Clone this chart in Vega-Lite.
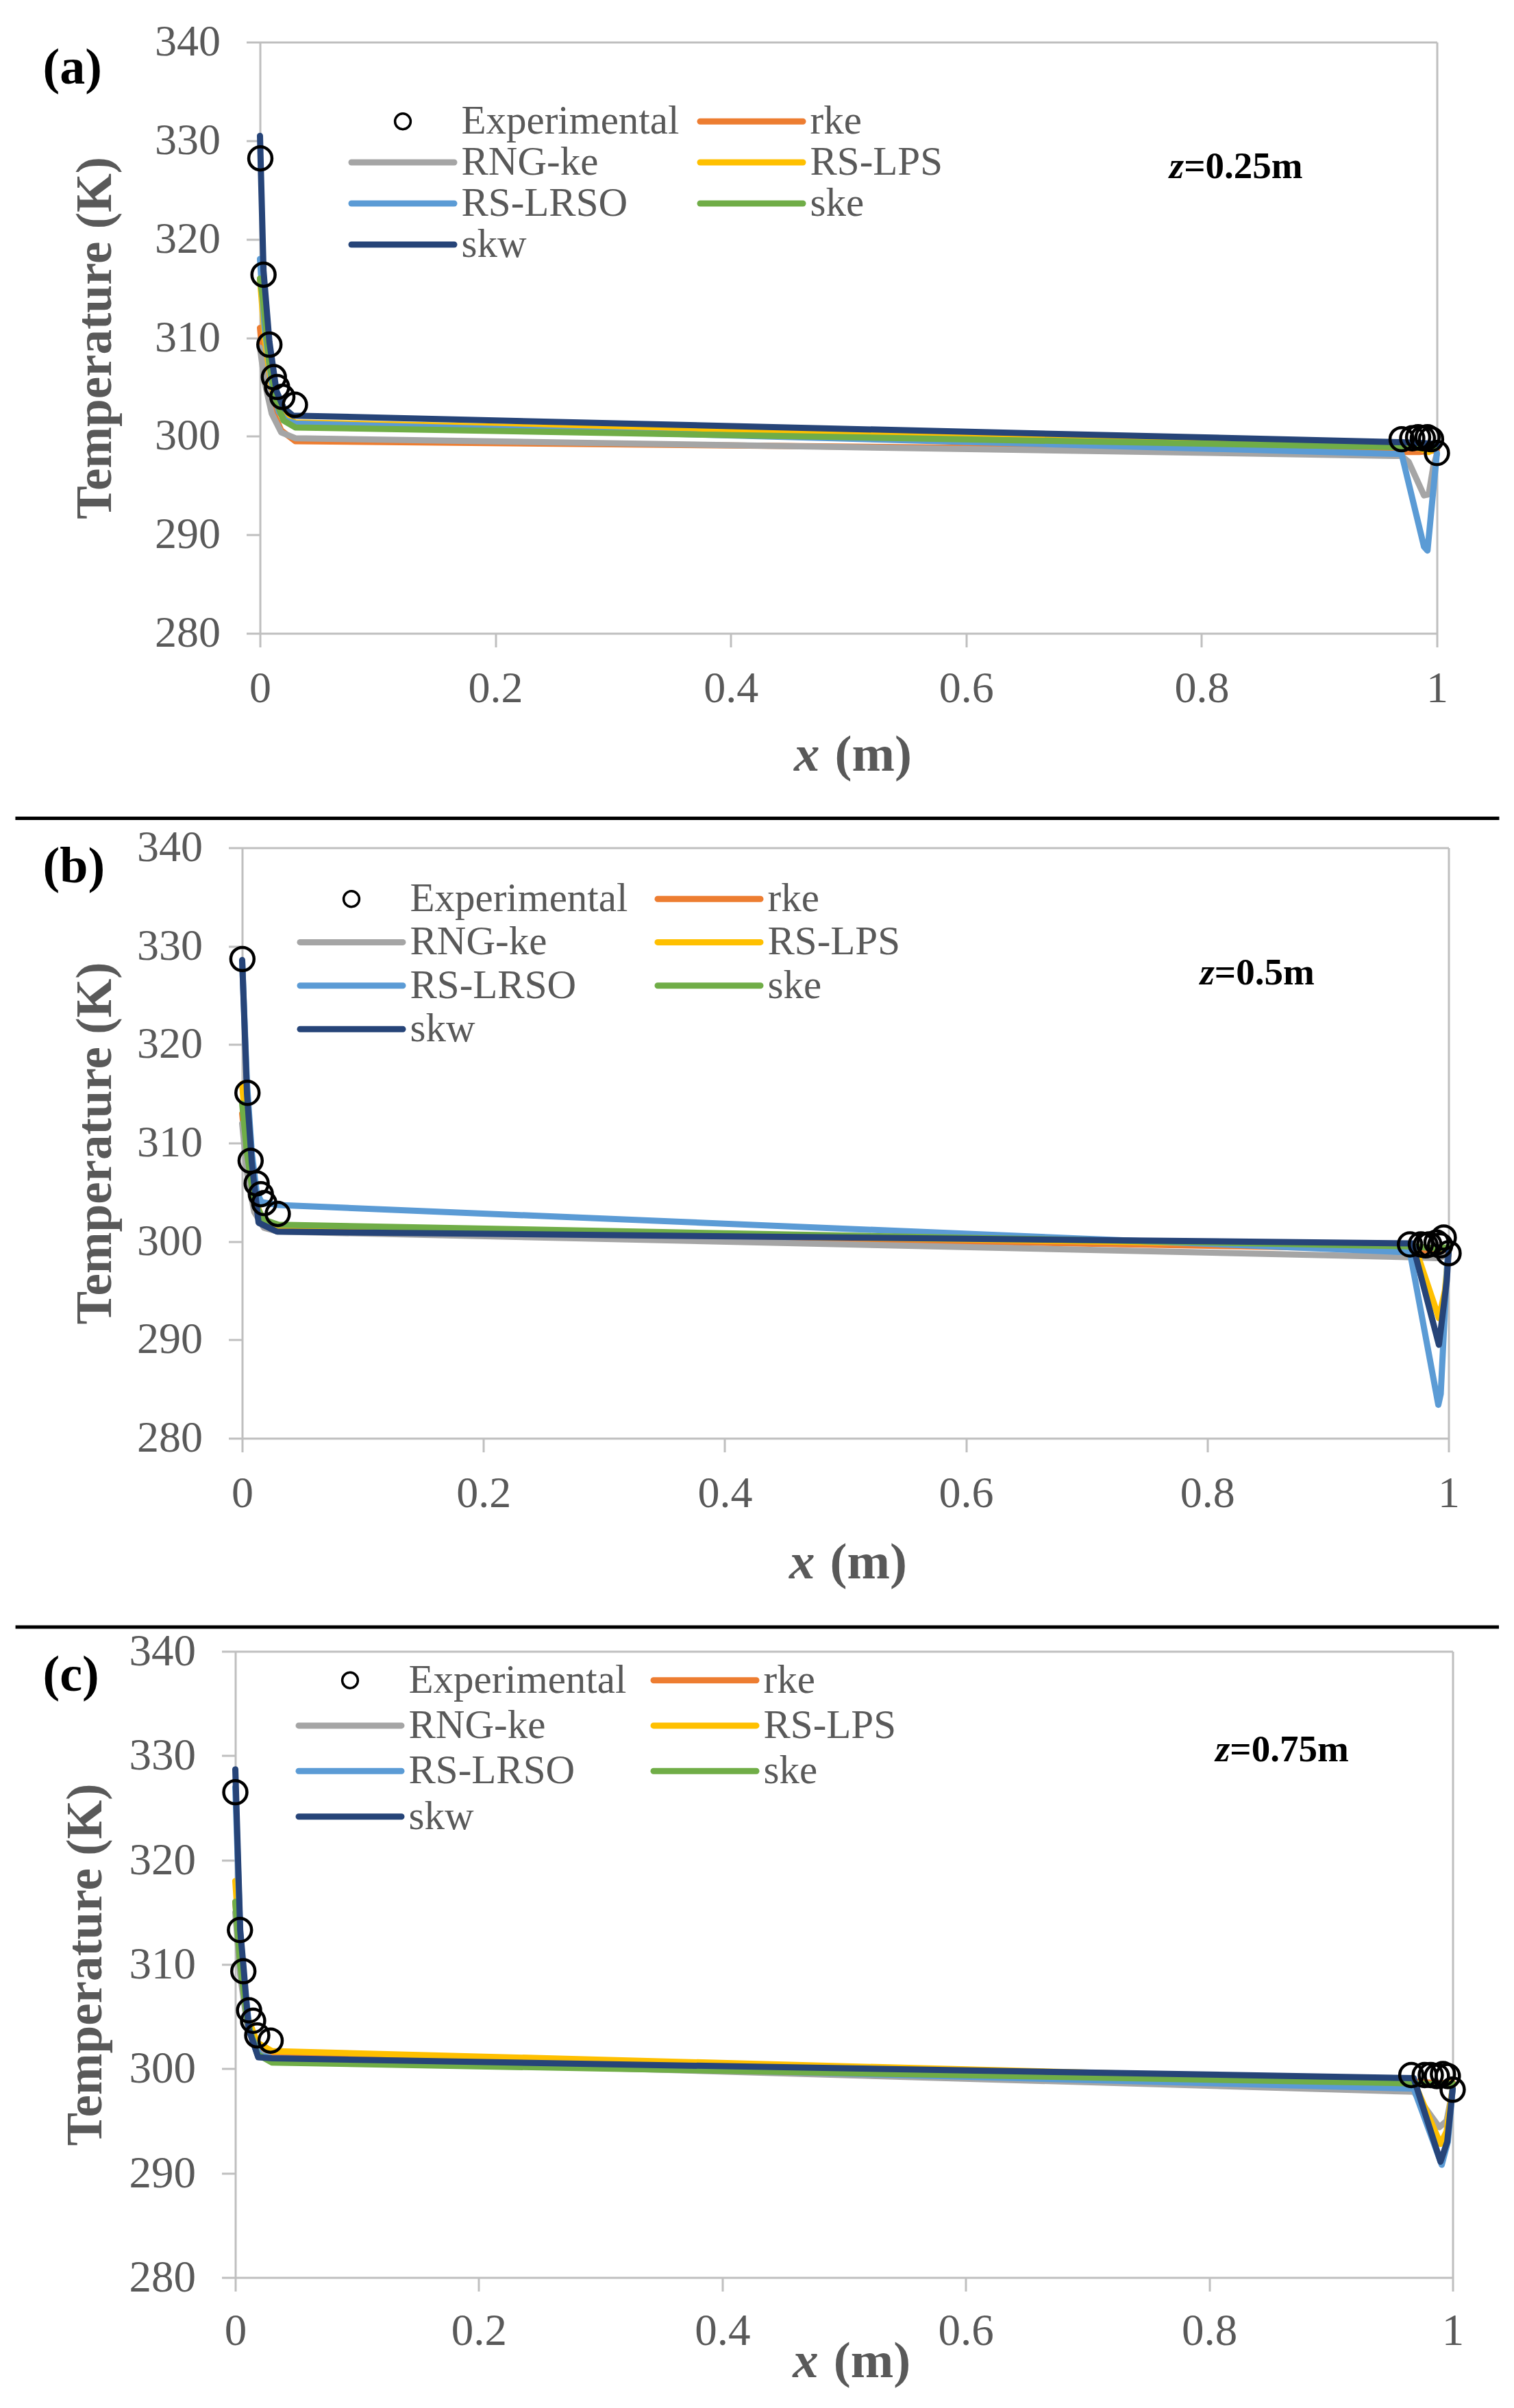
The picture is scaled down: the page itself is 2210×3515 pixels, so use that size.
{
  "$schema": "https://vega.github.io/schema/vega-lite/v6.json",
  "background": "white",
  "padding": {"left": 19.5, "top": 17.5, "right": 0, "bottom": 0},
  "spacing": 28,
  "datasets": {
    "curves": [
      {"panel": "a", "model": "rke", "x": 0, "T": 311}, {"panel": "a", "model": "rke", "x": 0.004, "T": 306}, {"panel": "a", "model": "rke", "x": 0.01, "T": 302.8}, {"panel": "a", "model": "rke", "x": 0.018, "T": 300.6}, {"panel": "a", "model": "rke", "x": 0.03, "T": 299.5}, {"panel": "a", "model": "rke", "x": 0.97, "T": 298.4}, {"panel": "a", "model": "rke", "x": 0.985, "T": 298.4}, {"panel": "a", "model": "rke", "x": 0.993, "T": 298.5}, {"panel": "a", "model": "rke", "x": 1, "T": 298.6},
      {"panel": "a", "model": "RNG-ke", "x": 0, "T": 309}, {"panel": "a", "model": "RNG-ke", "x": 0.004, "T": 305.5}, {"panel": "a", "model": "RNG-ke", "x": 0.01, "T": 302.3}, {"panel": "a", "model": "RNG-ke", "x": 0.018, "T": 300.4}, {"panel": "a", "model": "RNG-ke", "x": 0.03, "T": 299.8}, {"panel": "a", "model": "RNG-ke", "x": 0.97, "T": 298.0}, {"panel": "a", "model": "RNG-ke", "x": 0.976, "T": 297.4}, {"panel": "a", "model": "RNG-ke", "x": 0.989, "T": 294.0}, {"panel": "a", "model": "RNG-ke", "x": 0.993, "T": 294.1}, {"panel": "a", "model": "RNG-ke", "x": 0.997, "T": 297}, {"panel": "a", "model": "RNG-ke", "x": 1, "T": 298.2},
      {"panel": "a", "model": "RS-LPS", "x": 0, "T": 316}, {"panel": "a", "model": "RS-LPS", "x": 0.004, "T": 310}, {"panel": "a", "model": "RS-LPS", "x": 0.01, "T": 305}, {"panel": "a", "model": "RS-LPS", "x": 0.018, "T": 302.3}, {"panel": "a", "model": "RS-LPS", "x": 0.03, "T": 301.4}, {"panel": "a", "model": "RS-LPS", "x": 0.97, "T": 299.1}, {"panel": "a", "model": "RS-LPS", "x": 0.985, "T": 298.8}, {"panel": "a", "model": "RS-LPS", "x": 0.993, "T": 298.4}, {"panel": "a", "model": "RS-LPS", "x": 1, "T": 298.9},
      {"panel": "a", "model": "RS-LRSO", "x": 0, "T": 318}, {"panel": "a", "model": "RS-LRSO", "x": 0.004, "T": 311}, {"panel": "a", "model": "RS-LRSO", "x": 0.01, "T": 305.5}, {"panel": "a", "model": "RS-LRSO", "x": 0.016, "T": 302.5}, {"panel": "a", "model": "RS-LRSO", "x": 0.022, "T": 301.6}, {"panel": "a", "model": "RS-LRSO", "x": 0.03, "T": 301.3}, {"panel": "a", "model": "RS-LRSO", "x": 0.97, "T": 298.2}, {"panel": "a", "model": "RS-LRSO", "x": 0.989, "T": 288.8}, {"panel": "a", "model": "RS-LRSO", "x": 0.992, "T": 288.4}, {"panel": "a", "model": "RS-LRSO", "x": 0.996, "T": 293.4}, {"panel": "a", "model": "RS-LRSO", "x": 1, "T": 298.3},
      {"panel": "a", "model": "ske", "x": 0, "T": 316}, {"panel": "a", "model": "ske", "x": 0.003, "T": 313.5}, {"panel": "a", "model": "ske", "x": 0.008, "T": 307.5}, {"panel": "a", "model": "ske", "x": 0.014, "T": 303.5}, {"panel": "a", "model": "ske", "x": 0.02, "T": 301.6}, {"panel": "a", "model": "ske", "x": 0.03, "T": 300.9}, {"panel": "a", "model": "ske", "x": 0.97, "T": 298.9}, {"panel": "a", "model": "ske", "x": 0.99, "T": 298.8}, {"panel": "a", "model": "ske", "x": 1, "T": 299.0},
      {"panel": "a", "model": "skw", "x": 0, "T": 330.5}, {"panel": "a", "model": "skw", "x": 0.003, "T": 316.8}, {"panel": "a", "model": "skw", "x": 0.008, "T": 309.6}, {"panel": "a", "model": "skw", "x": 0.014, "T": 304.6}, {"panel": "a", "model": "skw", "x": 0.02, "T": 302.9}, {"panel": "a", "model": "skw", "x": 0.028, "T": 302.1}, {"panel": "a", "model": "skw", "x": 0.97, "T": 299.4}, {"panel": "a", "model": "skw", "x": 0.99, "T": 299.3}, {"panel": "a", "model": "skw", "x": 1, "T": 299.2},

      {"panel": "b", "model": "rke", "x": 0, "T": 313}, {"panel": "b", "model": "rke", "x": 0.004, "T": 308}, {"panel": "b", "model": "rke", "x": 0.01, "T": 303.5}, {"panel": "b", "model": "rke", "x": 0.018, "T": 301.6}, {"panel": "b", "model": "rke", "x": 0.03, "T": 301.2}, {"panel": "b", "model": "rke", "x": 0.97, "T": 299.2}, {"panel": "b", "model": "rke", "x": 0.99, "T": 299.0}, {"panel": "b", "model": "rke", "x": 1, "T": 299.1},
      {"panel": "b", "model": "RNG-ke", "x": 0, "T": 312}, {"panel": "b", "model": "RNG-ke", "x": 0.004, "T": 307}, {"panel": "b", "model": "RNG-ke", "x": 0.01, "T": 303}, {"panel": "b", "model": "RNG-ke", "x": 0.018, "T": 301.4}, {"panel": "b", "model": "RNG-ke", "x": 0.03, "T": 301.0}, {"panel": "b", "model": "RNG-ke", "x": 0.97, "T": 298.4}, {"panel": "b", "model": "RNG-ke", "x": 0.99, "T": 298.3}, {"panel": "b", "model": "RNG-ke", "x": 1, "T": 298.6},
      {"panel": "b", "model": "RS-LPS", "x": 0, "T": 316}, {"panel": "b", "model": "RS-LPS", "x": 0.004, "T": 310}, {"panel": "b", "model": "RS-LPS", "x": 0.01, "T": 304.5}, {"panel": "b", "model": "RS-LPS", "x": 0.018, "T": 301.8}, {"panel": "b", "model": "RS-LPS", "x": 0.03, "T": 301.3}, {"panel": "b", "model": "RS-LPS", "x": 0.972, "T": 299.5}, {"panel": "b", "model": "RS-LPS", "x": 0.992, "T": 292.2}, {"panel": "b", "model": "RS-LPS", "x": 0.997, "T": 295}, {"panel": "b", "model": "RS-LPS", "x": 1, "T": 298.9},
      {"panel": "b", "model": "RS-LRSO", "x": 0, "T": 328.5}, {"panel": "b", "model": "RS-LRSO", "x": 0.004, "T": 316}, {"panel": "b", "model": "RS-LRSO", "x": 0.008, "T": 309}, {"panel": "b", "model": "RS-LRSO", "x": 0.012, "T": 305}, {"panel": "b", "model": "RS-LRSO", "x": 0.016, "T": 304.0}, {"panel": "b", "model": "RS-LRSO", "x": 0.03, "T": 303.7}, {"panel": "b", "model": "RS-LRSO", "x": 0.968, "T": 298.9}, {"panel": "b", "model": "RS-LRSO", "x": 0.9915, "T": 283.4}, {"panel": "b", "model": "RS-LRSO", "x": 0.9935, "T": 284.5}, {"panel": "b", "model": "RS-LRSO", "x": 0.999, "T": 298}, {"panel": "b", "model": "RS-LRSO", "x": 1, "T": 298.9},
      {"panel": "b", "model": "ske", "x": 0, "T": 314}, {"panel": "b", "model": "ske", "x": 0.004, "T": 309}, {"panel": "b", "model": "ske", "x": 0.01, "T": 304}, {"panel": "b", "model": "ske", "x": 0.018, "T": 302.2}, {"panel": "b", "model": "ske", "x": 0.03, "T": 301.7}, {"panel": "b", "model": "ske", "x": 0.97, "T": 299.5}, {"panel": "b", "model": "ske", "x": 0.99, "T": 299.3}, {"panel": "b", "model": "ske", "x": 1, "T": 299.4},
      {"panel": "b", "model": "skw", "x": 0, "T": 328.6}, {"panel": "b", "model": "skw", "x": 0.004, "T": 315}, {"panel": "b", "model": "skw", "x": 0.008, "T": 308}, {"panel": "b", "model": "skw", "x": 0.0136, "T": 301.9}, {"panel": "b", "model": "skw", "x": 0.0288, "T": 301.0}, {"panel": "b", "model": "skw", "x": 0.97, "T": 299.8}, {"panel": "b", "model": "skw", "x": 0.992, "T": 289.5}, {"panel": "b", "model": "skw", "x": 0.9985, "T": 296}, {"panel": "b", "model": "skw", "x": 1, "T": 298.9},

      {"panel": "c", "model": "rke", "x": 0, "T": 316}, {"panel": "c", "model": "rke", "x": 0.004, "T": 310}, {"panel": "c", "model": "rke", "x": 0.01, "T": 305}, {"panel": "c", "model": "rke", "x": 0.018, "T": 301.8}, {"panel": "c", "model": "rke", "x": 0.03, "T": 301.2}, {"panel": "c", "model": "rke", "x": 0.968, "T": 298.8}, {"panel": "c", "model": "rke", "x": 0.99, "T": 298.6}, {"panel": "c", "model": "rke", "x": 1, "T": 298.7},
      {"panel": "c", "model": "RNG-ke", "x": 0, "T": 315}, {"panel": "c", "model": "RNG-ke", "x": 0.004, "T": 309}, {"panel": "c", "model": "RNG-ke", "x": 0.01, "T": 304}, {"panel": "c", "model": "RNG-ke", "x": 0.018, "T": 301.6}, {"panel": "c", "model": "RNG-ke", "x": 0.03, "T": 301.0}, {"panel": "c", "model": "RNG-ke", "x": 0.968, "T": 297.8}, {"panel": "c", "model": "RNG-ke", "x": 0.989, "T": 294.4}, {"panel": "c", "model": "RNG-ke", "x": 0.995, "T": 295}, {"panel": "c", "model": "RNG-ke", "x": 1, "T": 298.0},
      {"panel": "c", "model": "RS-LPS", "x": 0, "T": 318}, {"panel": "c", "model": "RS-LPS", "x": 0.004, "T": 311}, {"panel": "c", "model": "RS-LPS", "x": 0.01, "T": 305}, {"panel": "c", "model": "RS-LPS", "x": 0.018, "T": 302.5}, {"panel": "c", "model": "RS-LPS", "x": 0.03, "T": 301.7}, {"panel": "c", "model": "RS-LPS", "x": 0.968, "T": 298.8}, {"panel": "c", "model": "RS-LPS", "x": 0.99, "T": 292.8}, {"panel": "c", "model": "RS-LPS", "x": 0.995, "T": 294}, {"panel": "c", "model": "RS-LPS", "x": 1, "T": 298.2},
      {"panel": "c", "model": "RS-LRSO", "x": 0, "T": 327}, {"panel": "c", "model": "RS-LRSO", "x": 0.004, "T": 313}, {"panel": "c", "model": "RS-LRSO", "x": 0.008, "T": 307.5}, {"panel": "c", "model": "RS-LRSO", "x": 0.012, "T": 303.5}, {"panel": "c", "model": "RS-LRSO", "x": 0.02, "T": 301.3}, {"panel": "c", "model": "RS-LRSO", "x": 0.03, "T": 301.0}, {"panel": "c", "model": "RS-LRSO", "x": 0.968, "T": 298.1}, {"panel": "c", "model": "RS-LRSO", "x": 0.991, "T": 290.8}, {"panel": "c", "model": "RS-LRSO", "x": 0.996, "T": 293}, {"panel": "c", "model": "RS-LRSO", "x": 1, "T": 298.1},
      {"panel": "c", "model": "ske", "x": 0, "T": 316}, {"panel": "c", "model": "ske", "x": 0.004, "T": 310}, {"panel": "c", "model": "ske", "x": 0.01, "T": 304.5}, {"panel": "c", "model": "ske", "x": 0.018, "T": 301.4}, {"panel": "c", "model": "ske", "x": 0.03, "T": 300.6}, {"panel": "c", "model": "ske", "x": 0.968, "T": 298.6}, {"panel": "c", "model": "ske", "x": 0.99, "T": 298.5}, {"panel": "c", "model": "ske", "x": 1, "T": 298.6},
      {"panel": "c", "model": "skw", "x": 0, "T": 328.7}, {"panel": "c", "model": "skw", "x": 0.004, "T": 313.3}, {"panel": "c", "model": "skw", "x": 0.007, "T": 309.4}, {"panel": "c", "model": "skw", "x": 0.011, "T": 303.8}, {"panel": "c", "model": "skw", "x": 0.0188, "T": 301.1}, {"panel": "c", "model": "skw", "x": 0.03, "T": 301.0}, {"panel": "c", "model": "skw", "x": 0.968, "T": 299.1}, {"panel": "c", "model": "skw", "x": 0.99, "T": 291.1}, {"panel": "c", "model": "skw", "x": 0.9955, "T": 293}, {"panel": "c", "model": "skw", "x": 1, "T": 298.1}
    ],
    "experimental": [
      {"panel": "a", "model": "Experimental", "x": 0.0003, "T": 328.2}, {"panel": "a", "model": "Experimental", "x": 0.003, "T": 316.4}, {"panel": "a", "model": "Experimental", "x": 0.008, "T": 309.3}, {"panel": "a", "model": "Experimental", "x": 0.0118, "T": 306.0}, {"panel": "a", "model": "Experimental", "x": 0.0145, "T": 305.0}, {"panel": "a", "model": "Experimental", "x": 0.019, "T": 304.0}, {"panel": "a", "model": "Experimental", "x": 0.0297, "T": 303.2},
      {"panel": "a", "model": "Experimental", "x": 0.970, "T": 299.7}, {"panel": "a", "model": "Experimental", "x": 0.979, "T": 299.8}, {"panel": "a", "model": "Experimental", "x": 0.984, "T": 299.9}, {"panel": "a", "model": "Experimental", "x": 0.988, "T": 299.8}, {"panel": "a", "model": "Experimental", "x": 0.992, "T": 299.9}, {"panel": "a", "model": "Experimental", "x": 0.995, "T": 299.7}, {"panel": "a", "model": "Experimental", "x": 1.0, "T": 298.3},
      {"panel": "b", "model": "Experimental", "x": 0.0002, "T": 328.7}, {"panel": "b", "model": "Experimental", "x": 0.0044, "T": 315.1}, {"panel": "b", "model": "Experimental", "x": 0.007, "T": 308.2}, {"panel": "b", "model": "Experimental", "x": 0.012, "T": 305.9}, {"panel": "b", "model": "Experimental", "x": 0.0155, "T": 304.8}, {"panel": "b", "model": "Experimental", "x": 0.0183, "T": 303.9}, {"panel": "b", "model": "Experimental", "x": 0.0295, "T": 302.8},
      {"panel": "b", "model": "Experimental", "x": 0.968, "T": 299.7}, {"panel": "b", "model": "Experimental", "x": 0.977, "T": 299.7}, {"panel": "b", "model": "Experimental", "x": 0.981, "T": 299.6}, {"panel": "b", "model": "Experimental", "x": 0.984, "T": 299.7}, {"panel": "b", "model": "Experimental", "x": 0.990, "T": 299.9}, {"panel": "b", "model": "Experimental", "x": 0.993, "T": 299.6}, {"panel": "b", "model": "Experimental", "x": 0.996, "T": 300.4}, {"panel": "b", "model": "Experimental", "x": 1.0, "T": 298.8},
      {"panel": "c", "model": "Experimental", "x": 0, "T": 326.5}, {"panel": "c", "model": "Experimental", "x": 0.0038, "T": 313.3}, {"panel": "c", "model": "Experimental", "x": 0.0066, "T": 309.35}, {"panel": "c", "model": "Experimental", "x": 0.0113, "T": 305.6}, {"panel": "c", "model": "Experimental", "x": 0.0146, "T": 304.6}, {"panel": "c", "model": "Experimental", "x": 0.018, "T": 303.2}, {"panel": "c", "model": "Experimental", "x": 0.029, "T": 302.7},
      {"panel": "c", "model": "Experimental", "x": 0.966, "T": 299.4}, {"panel": "c", "model": "Experimental", "x": 0.977, "T": 299.4}, {"panel": "c", "model": "Experimental", "x": 0.982, "T": 299.4}, {"panel": "c", "model": "Experimental", "x": 0.987, "T": 299.3}, {"panel": "c", "model": "Experimental", "x": 0.992, "T": 299.5}, {"panel": "c", "model": "Experimental", "x": 0.996, "T": 299.3}, {"panel": "c", "model": "Experimental", "x": 1.0, "T": 298.0}
    ]
  },
  "vconcat": [
    {
      "width": 1754,
      "height": 863,
      "layer": [
        {"data": {"name": "curves"}, "transform": [{"filter": "datum.panel === 'a'"}],
          "mark": {"type": "line", "strokeWidth": 9, "strokeCap": "round", "strokeJoin": "round"},
          "encoding": {
            "x": {"field": "x", "type": "quantitative", "scale": {"domain": [0, 1], "range": [36, 1754], "nice": false},
              "axis": {"title": null, "values": [0, 0.2, 0.4, 0.6, 0.8, 1], "format": "~g", "labelFlush": false, "labelPadding": 29,
                "gridOpacity": {"condition": {"test": "datum.value === 1", "value": 1}, "value": 0},
                "encode": {"ticks": {"update": {"y": {"value": -20}}}}}},
            "y": {"field": "T", "type": "quantitative", "scale": {"domain": [280, 340], "nice": false, "zero": false},
              "axis": {"title": "Temperature (K)", "values": [280, 290, 300, 310, 320, 330, 340], "offset": -36, "labelPadding": 38, "titlePadding": 49,
                "gridOpacity": {"condition": {"test": "datum.value === 340", "value": 1}, "value": 0},
                "encode": {"ticks": {"update": {"x": {"value": 20}}}}}},
            "color": {"field": "model", "type": "nominal",
              "scale": {"domain": ["Experimental", "rke", "RNG-ke", "RS-LPS", "RS-LRSO", "ske", "skw"], "range": ["#000000", "#ED7D31", "#A5A5A5", "#FFC000", "#5B9BD5", "#70AD47", "#264478"]},
              "legend": {"orient": "none", "legendX": 170, "legendY": 86, "direction": "horizontal", "columns": 2, "title": null, "columnPadding": 12, "rowPadding": -1.3,
                "encode": {"symbols": {"update": {"shape": {"signal": "datum.value === 'Experimental' ? 'circle' : 'stroke'"}, "size": {"signal": "datum.value === 'Experimental' ? 520 : 22500"}, "strokeWidth": {"signal": "datum.value === 'Experimental' ? 3.5 : 9"}, "fill": {"value": "transparent"}, "strokeCap": {"value": "round"}}}}}}}},
        {"data": {"name": "experimental"}, "transform": [{"filter": "datum.panel === 'a'"}],
          "mark": {"type": "point", "shape": "circle", "filled": false, "size": 1150, "strokeWidth": 4.5, "opacity": 1},
          "encoding": {
            "x": {"field": "x", "type": "quantitative", "scale": {"domain": [0, 1], "range": [36, 1754], "nice": false}},
            "y": {"field": "T", "type": "quantitative", "scale": {"domain": [280, 340], "nice": false, "zero": false}},
            "color": {"field": "model", "type": "nominal",
              "scale": {"domain": ["Experimental", "rke", "RNG-ke", "RS-LPS", "RS-LRSO", "ske", "skw"], "range": ["#000000", "#ED7D31", "#A5A5A5", "#FFC000", "#5B9BD5", "#70AD47", "#264478"]}}}},
        {"data": {"values": [{}]}, "mark": {"type": "rule", "color": "white", "strokeWidth": 5},
          "encoding": {"x": {"datum": -0.2078, "type": "quantitative"}, "x2": {"datum": -0.15}, "y": {"datum": 342.85, "type": "quantitative"}}},
        {"data": {"values": [{}]}, "mark": {"type": "rule", "color": "white", "strokeWidth": 5},
          "encoding": {"x": {"datum": -0.2078, "type": "quantitative"}, "x2": {"datum": -0.15}, "y": {"datum": 263.59, "type": "quantitative"}}},
        {"data": {"values": [{}]}, "mark": {"type": "text", "text": "(a)", "font": "Liberation Serif", "fontWeight": "bold", "fontSize": 74, "align": "left", "baseline": "middle", "color": "black"},
          "encoding": {"x": {"datum": -0.1845, "type": "quantitative"}, "y": {"datum": 337.29, "type": "quantitative"}}},
        {"data": {"values": [{}]}, "mark": {"type": "text", "text": "x", "font": "Liberation Serif", "fontStyle": "italic", "fontWeight": "bold", "fontSize": 75, "align": "right", "baseline": "middle", "color": "#595959"},
          "encoding": {"x": {"datum": 0.4756, "type": "quantitative"}, "y": {"datum": 267.69, "type": "quantitative"}}},
        {"data": {"values": [{}]}, "mark": {"type": "text", "text": "(m)", "font": "Liberation Serif", "fontWeight": "bold", "fontSize": 75, "align": "left", "baseline": "middle", "color": "#595959"},
          "encoding": {"x": {"datum": 0.4884, "type": "quantitative"}, "y": {"datum": 267.69, "type": "quantitative"}}},
        {"data": {"values": [{}]}, "mark": {"type": "text", "text": "z", "font": "Liberation Serif", "fontStyle": "italic", "fontWeight": "bold", "fontSize": 55, "align": "right", "baseline": "middle", "color": "black"},
          "encoding": {"x": {"datum": 0.785, "type": "quantitative"}, "y": {"datum": 327.4, "type": "quantitative"}}},
        {"data": {"values": [{}]}, "mark": {"type": "text", "text": "=0.25m", "font": "Liberation Serif", "fontWeight": "bold", "fontSize": 55, "align": "left", "baseline": "middle", "color": "black"},
          "encoding": {"x": {"datum": 0.785, "type": "quantitative"}, "y": {"datum": 327.4, "type": "quantitative"}}}
      ]
    },
    {
      "width": 1771,
      "height": 862,
      "layer": [
        {"data": {"name": "curves"}, "transform": [{"filter": "datum.panel === 'b'"}],
          "mark": {"type": "line", "strokeWidth": 9, "strokeCap": "round", "strokeJoin": "round"},
          "encoding": {
            "x": {"field": "x", "type": "quantitative", "scale": {"domain": [0, 1], "range": [10, 1771], "nice": false},
              "axis": {"title": null, "values": [0, 0.2, 0.4, 0.6, 0.8, 1], "format": "~g", "labelFlush": false, "labelPadding": 29,
                "gridOpacity": {"condition": {"test": "datum.value === 1", "value": 1}, "value": 0},
                "encode": {"ticks": {"update": {"y": {"value": -20}}}}}},
            "y": {"field": "T", "type": "quantitative", "scale": {"domain": [280, 340], "nice": false, "zero": false},
              "axis": {"title": "Temperature (K)", "values": [280, 290, 300, 310, 320, 330, 340], "offset": -10, "labelPadding": 38, "titlePadding": 23,
                "gridOpacity": {"condition": {"test": "datum.value === 340", "value": 1}, "value": 0},
                "encode": {"ticks": {"update": {"x": {"value": 20}}}}}},
            "color": {"field": "model", "type": "nominal",
              "scale": {"domain": ["Experimental", "rke", "RNG-ke", "RS-LPS", "RS-LRSO", "ske", "skw"], "range": ["#000000", "#ED7D31", "#A5A5A5", "#FFC000", "#5B9BD5", "#70AD47", "#264478"]},
              "legend": {"orient": "none", "legendX": 95, "legendY": 45, "direction": "horizontal", "columns": 2, "title": null, "columnPadding": 25, "rowPadding": 3.4,
                "encode": {"symbols": {"update": {"shape": {"signal": "datum.value === 'Experimental' ? 'circle' : 'stroke'"}, "size": {"signal": "datum.value === 'Experimental' ? 520 : 22500"}, "strokeWidth": {"signal": "datum.value === 'Experimental' ? 3.5 : 9"}, "fill": {"value": "transparent"}, "strokeCap": {"value": "round"}}}}}}}},
        {"data": {"name": "experimental"}, "transform": [{"filter": "datum.panel === 'b'"}],
          "mark": {"type": "point", "shape": "circle", "filled": false, "size": 1150, "strokeWidth": 4.5, "opacity": 1},
          "encoding": {
            "x": {"field": "x", "type": "quantitative", "scale": {"domain": [0, 1], "range": [10, 1771], "nice": false}},
            "y": {"field": "T", "type": "quantitative", "scale": {"domain": [280, 340], "nice": false, "zero": false}},
            "color": {"field": "model", "type": "nominal",
              "scale": {"domain": ["Experimental", "rke", "RNG-ke", "RS-LPS", "RS-LRSO", "ske", "skw"], "range": ["#000000", "#ED7D31", "#A5A5A5", "#FFC000", "#5B9BD5", "#70AD47", "#264478"]}}}},
        {"data": {"values": [{}]}, "mark": {"type": "rule", "color": "black", "strokeWidth": 5},
          "encoding": {"x": {"datum": -0.188, "type": "quantitative"}, "x2": {"datum": 1.042}, "y": {"datum": 342.99, "type": "quantitative"}}},
        {"data": {"values": [{}]}, "mark": {"type": "rule", "color": "white", "strokeWidth": 5},
          "encoding": {"x": {"datum": -0.188, "type": "quantitative"}, "x2": {"datum": -0.13}, "y": {"datum": 263.16, "type": "quantitative"}}},
        {"data": {"values": [{}]}, "mark": {"type": "text", "text": "(b)", "font": "Liberation Serif", "fontWeight": "bold", "fontSize": 74, "align": "left", "baseline": "middle", "color": "black"},
          "encoding": {"x": {"datum": -0.1652, "type": "quantitative"}, "y": {"datum": 338.05, "type": "quantitative"}}},
        {"data": {"values": [{}]}, "mark": {"type": "text", "text": "x", "font": "Liberation Serif", "fontStyle": "italic", "fontWeight": "bold", "fontSize": 75, "align": "right", "baseline": "middle", "color": "#595959"},
          "encoding": {"x": {"datum": 0.4747, "type": "quantitative"}, "y": {"datum": 267.40, "type": "quantitative"}}},
        {"data": {"values": [{}]}, "mark": {"type": "text", "text": "(m)", "font": "Liberation Serif", "fontWeight": "bold", "fontSize": 75, "align": "left", "baseline": "middle", "color": "#595959"},
          "encoding": {"x": {"datum": 0.4872, "type": "quantitative"}, "y": {"datum": 267.40, "type": "quantitative"}}},
        {"data": {"values": [{}]}, "mark": {"type": "text", "text": "z", "font": "Liberation Serif", "fontStyle": "italic", "fontWeight": "bold", "fontSize": 55, "align": "right", "baseline": "middle", "color": "black"},
          "encoding": {"x": {"datum": 0.806, "type": "quantitative"}, "y": {"datum": 327.3, "type": "quantitative"}}},
        {"data": {"values": [{}]}, "mark": {"type": "text", "text": "=0.5m", "font": "Liberation Serif", "fontWeight": "bold", "fontSize": 55, "align": "left", "baseline": "middle", "color": "black"},
          "encoding": {"x": {"datum": 0.806, "type": "quantitative"}, "y": {"datum": 327.3, "type": "quantitative"}}}
      ]
    },
    {
      "width": 1777,
      "height": 914,
      "layer": [
        {"data": {"name": "curves"}, "transform": [{"filter": "datum.panel === 'c'"}],
          "mark": {"type": "line", "strokeWidth": 9, "strokeCap": "round", "strokeJoin": "round"},
          "encoding": {
            "x": {"field": "x", "type": "quantitative", "scale": {"domain": [0, 1], "range": [0, 1777], "nice": false},
              "axis": {"title": null, "values": [0, 0.2, 0.4, 0.6, 0.8, 1], "format": "~g", "labelFlush": false, "labelFontSize": 65, "labelPadding": 26.5,
                "gridOpacity": {"condition": {"test": "datum.value === 1", "value": 1}, "value": 0},
                "encode": {"ticks": {"update": {"y": {"value": -20}}}}}},
            "y": {"field": "T", "type": "quantitative", "scale": {"domain": [280, 340], "nice": false, "zero": false},
              "axis": {"title": "Temperature (K)", "values": [280, 290, 300, 310, 320, 330, 340], "labelFontSize": 65, "labelPadding": 38, "titlePadding": 26,
                "gridOpacity": {"condition": {"test": "datum.value === 340", "value": 1}, "value": 0},
                "encode": {"ticks": {"update": {"x": {"value": 20}}}}}},
            "color": {"field": "model", "type": "nominal",
              "scale": {"domain": ["Experimental", "rke", "RNG-ke", "RS-LPS", "RS-LRSO", "ske", "skw"], "range": ["#000000", "#ED7D31", "#A5A5A5", "#FFC000", "#5B9BD5", "#70AD47", "#264478"]},
              "legend": {"orient": "none", "legendX": 93, "legendY": 12.5, "direction": "horizontal", "columns": 2, "title": null, "columnPadding": 21, "rowPadding": 6.4,
                "encode": {"symbols": {"update": {"shape": {"signal": "datum.value === 'Experimental' ? 'circle' : 'stroke'"}, "size": {"signal": "datum.value === 'Experimental' ? 520 : 22500"}, "strokeWidth": {"signal": "datum.value === 'Experimental' ? 3.5 : 9"}, "fill": {"value": "transparent"}, "strokeCap": {"value": "round"}}}}}}}},
        {"data": {"name": "experimental"}, "transform": [{"filter": "datum.panel === 'c'"}],
          "mark": {"type": "point", "shape": "circle", "filled": false, "size": 1150, "strokeWidth": 4.5, "opacity": 1},
          "encoding": {
            "x": {"field": "x", "type": "quantitative", "scale": {"domain": [0, 1], "range": [0, 1777], "nice": false}},
            "y": {"field": "T", "type": "quantitative", "scale": {"domain": [280, 340], "nice": false, "zero": false}},
            "color": {"field": "model", "type": "nominal",
              "scale": {"domain": ["Experimental", "rke", "RNG-ke", "RS-LPS", "RS-LRSO", "ske", "skw"], "range": ["#000000", "#ED7D31", "#A5A5A5", "#FFC000", "#5B9BD5", "#70AD47", "#264478"]}}}},
        {"data": {"values": [{}]}, "mark": {"type": "rule", "color": "black", "strokeWidth": 5},
          "encoding": {"x": {"datum": -0.1806, "type": "quantitative"}, "x2": {"datum": 1.038}, "y": {"datum": 342.33, "type": "quantitative"}}},
        {"data": {"values": [{}]}, "mark": {"type": "text", "text": "(c)", "font": "Liberation Serif", "fontWeight": "bold", "fontSize": 74, "align": "left", "baseline": "middle", "color": "black"},
          "encoding": {"x": {"datum": -0.1581, "type": "quantitative"}, "y": {"datum": 337.67, "type": "quantitative"}}},
        {"data": {"values": [{}]}, "mark": {"type": "text", "text": "x", "font": "Liberation Serif", "fontStyle": "italic", "fontWeight": "bold", "fontSize": 75, "align": "right", "baseline": "middle", "color": "#595959"},
          "encoding": {"x": {"datum": 0.479, "type": "quantitative"}, "y": {"datum": 271.96, "type": "quantitative"}}},
        {"data": {"values": [{}]}, "mark": {"type": "text", "text": "(m)", "font": "Liberation Serif", "fontWeight": "bold", "fontSize": 75, "align": "left", "baseline": "middle", "color": "#595959"},
          "encoding": {"x": {"datum": 0.4914, "type": "quantitative"}, "y": {"datum": 271.96, "type": "quantitative"}}},
        {"data": {"values": [{}]}, "mark": {"type": "text", "text": "z", "font": "Liberation Serif", "fontStyle": "italic", "fontWeight": "bold", "fontSize": 55, "align": "right", "baseline": "middle", "color": "black"},
          "encoding": {"x": {"datum": 0.817, "type": "quantitative"}, "y": {"datum": 330.6, "type": "quantitative"}}},
        {"data": {"values": [{}]}, "mark": {"type": "text", "text": "=0.75m", "font": "Liberation Serif", "fontWeight": "bold", "fontSize": 55, "align": "left", "baseline": "middle", "color": "black"},
          "encoding": {"x": {"datum": 0.817, "type": "quantitative"}, "y": {"datum": 330.6, "type": "quantitative"}}}
      ]
    }
  ],
  "resolve": {"scale": {"x": "independent", "y": "independent", "color": "independent"}, "legend": {"color": "independent"}},
  "config": {
    "font": "Liberation Serif",
    "view": {"stroke": null},
    "axis": {
      "grid": true,
      "gridColor": "#BFBFBF",
      "gridWidth": 3,
      "domainColor": "#BFBFBF",
      "domainWidth": 3,
      "tickColor": "#BFBFBF",
      "tickWidth": 3,
      "tickSize": 20,
      "labelFont": "Liberation Serif",
      "labelFontSize": 64,
      "labelColor": "#595959",
      "titleFont": "Liberation Serif",
      "titleFontWeight": "bold",
      "titleColor": "#595959"
    },
    "axisY": {"titleFontSize": 73},
    "legend": {
      "symbolType": "stroke",
      "symbolSize": 22500,
      "symbolStrokeWidth": 9,
      "symbolOffset": 45,
      "labelFont": "Liberation Serif",
      "labelFontSize": 59,
      "labelColor": "#595959",
      "labelOffset": 56,
      "labelLimit": 1000,
      "padding": 0
    }
  }
}
